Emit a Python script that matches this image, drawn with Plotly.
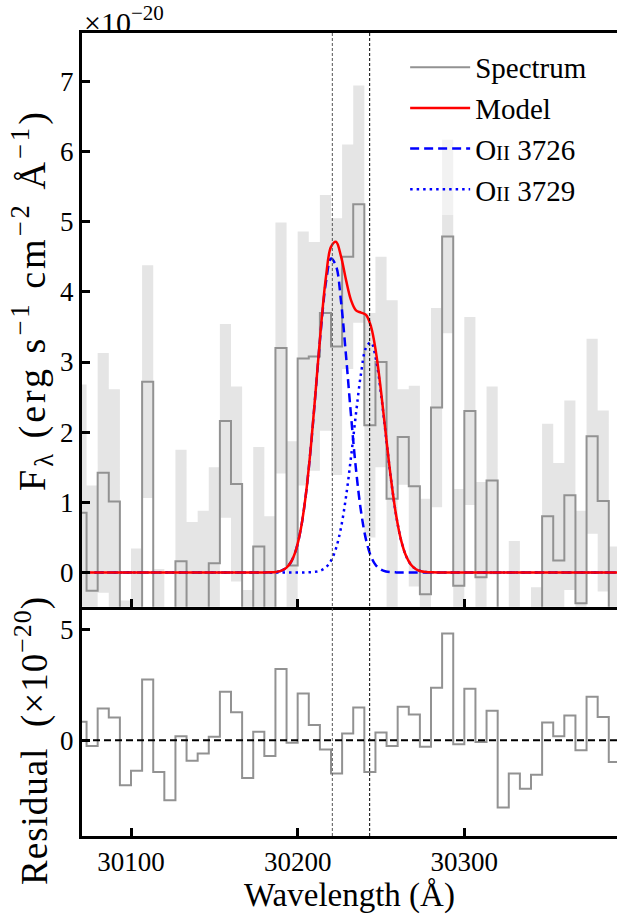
import plotly.graph_objects as go
from plotly.subplots import make_subplots

# Binned spectrum (bin centres in Angstrom, flux in 1e-20 erg/s/cm2/A)
wave = [
    30070.00, 30076.67, 30083.33, 30090.00, 30096.67, 30103.33, 30110.00, 30116.67,
    30123.33, 30130.00, 30136.67, 30143.33, 30150.00, 30156.67, 30163.33, 30170.00,
    30176.67, 30183.33, 30190.00, 30196.67, 30203.33, 30210.00, 30216.67, 30223.33,
    30230.00, 30236.67, 30243.33, 30250.00, 30256.67, 30263.33, 30270.00, 30276.67,
    30283.33, 30290.00, 30296.67, 30303.33, 30310.00, 30316.67, 30323.33, 30330.00,
    30336.67, 30343.33, 30350.00, 30356.67, 30363.33, 30370.00, 30376.67, 30383.33,
    30390.00,
]
flux = [
    0.85, -0.26, 1.42, 1.01, -2.03, -1.37, 2.72, -1.43,
    -2.70, 0.16, -0.93, -0.60, 0.13, 2.16, 1.26, -1.70,
    0.37, -0.71, 3.20, 0.10, 3.05, 3.08, 3.70, 3.22,
    4.50, 5.25, 2.10, 3.00, 1.05, 1.93, 1.23, -0.31,
    2.35, 4.79, -0.19, 2.30, -0.07, 1.31, -3.03, -1.50,
    -2.18, -1.55, 0.80, 0.17, 1.10, -0.44, 1.94, 1.02,
    -0.98,
]
flux_err = [
    1.83, 1.50, 1.71, 1.60, 1.63, 1.71, 1.66, 1.48,
    1.60, 1.59, 1.65, 1.48, 1.37, 1.38, 1.39, 1.45,
    1.42, 1.51, 1.79, 1.77, 1.81, 1.63, 1.68, 1.83,
    1.60, 1.69, 1.60, 1.50, 2.83, 0.68, 1.43, 1.36,
    1.42, 1.38, 1.38, 1.34, 1.36, 1.34, 1.40, 1.95,
    1.40, 1.34, 1.32, 1.39, 1.35, 1.32, 1.39, 1.29,
    1.35,
]
resid = [
    0.83, -0.26, 1.43, 1.02, -2.03, -1.37, 2.73, -1.43,
    -2.70, 0.18, -0.93, -0.60, 0.15, 2.18, 1.26, -1.70,
    0.38, -0.71, 3.20, -0.12, 2.10, 0.68, -0.42, -1.50,
    0.30, 1.47, -1.43, 0.35, -0.26, 1.50, 1.16, -0.30,
    2.36, 4.80, -0.18, 2.31, -0.08, 1.32, -3.03, -1.50,
    -2.18, -1.55, 0.80, 0.18, 1.11, -0.45, 1.95, 1.04,
    -0.98,
]

# Model curves
model_wave = [
    30070, 30184, 30187, 30190, 30193, 30196, 30199, 30202, 30205, 30208, 30211,
    30214, 30217, 30220, 30223, 30226, 30229, 30232, 30235, 30238, 30241, 30244,
    30247, 30250, 30253, 30256, 30259, 30262, 30265, 30268, 30271, 30274, 30277,
    30280, 30392,
]
model_total = [
    0, 0.003, 0.008, 0.023, 0.062, 0.149, 0.323, 0.634, 1.127, 1.814, 2.648,
    3.504, 4.217, 4.641, 4.714, 4.505, 4.171, 3.883, 3.736, 3.705, 3.671, 3.506,
    3.137, 2.586, 1.947, 1.332, 0.826, 0.464, 0.237, 0.109, 0.046, 0.017, 0.006,
    0.002, 0,
]
oii_3726 = [
    0, 0.003, 0.008, 0.023, 0.062, 0.149, 0.323, 0.634, 1.126, 1.811, 2.637,
    3.475, 4.144, 4.474, 4.371, 3.866, 3.094, 2.241, 1.469, 0.872, 0.468, 0.228,
    0.100, 0.040, 0.014, 0.005, 0.001, 0, 0, 0, 0, 0, 0,
    0, 0,
]
oii_3729 = [
    0, 0, 0, 0, 0, 0, 0, 0, 0.001, 0.003, 0.011,
    0.029, 0.073, 0.167, 0.343, 0.639, 1.077, 1.642, 2.267, 2.833, 3.203, 3.278,
    3.037, 2.546, 1.933, 1.327, 0.825, 0.464, 0.237, 0.109, 0.046, 0.017, 0.006,
    0.002, 0,
]
line_centers = [30220.8, 30243.2]

FONT = "Liberation Serif, Times New Roman, serif"
SPEC_GRAY = "#929292"
BAND_GRAY = "#e5e5e5"
SP = "\u00a0"  # extra word spacing for the residual label


def steps(x, y):
    # turn bin centres into a step outline that covers each full bin
    half = (x[1] - x[0]) / 2
    xs, ys = [], []
    for xc, yc in zip(x, y):
        xs += [xc - half, xc + half]
        ys += [yc, yc]
    return xs, ys


lo = [f - e for f, e in zip(flux, flux_err)]
hi = [f + e for f, e in zip(flux, flux_err)]
lo_x, lo_y = steps(wave, lo)
hi_x, hi_y = steps(wave, hi)
sx, sy = steps(wave, flux)
rx, ry = steps(wave, resid)

fig = make_subplots(rows=2, cols=1, shared_xaxes=True, vertical_spacing=0)

# error band
fig.add_trace(
    go.Scatter(
        x=lo_x + hi_x[::-1], y=lo_y + hi_y[::-1], fill="toself",
        fillcolor=BAND_GRAY, line={"width": 0}, mode="lines",
        showlegend=False, hoverinfo="skip",
    ),
    row=1, col=1,
)
fig.add_trace(
    go.Scatter(x=sx, y=sy, mode="lines", name="Spectrum",
               line={"color": SPEC_GRAY, "width": 2}, legendrank=1),
    row=1, col=1,
)
fig.add_trace(
    go.Scatter(x=model_wave, y=oii_3726, mode="lines",
               name="O<span style='font-size:21px'>II</span> 3726",
               line={"color": "#0000ff", "width": 2.5, "dash": "9px,5px", "shape": "spline"},
               legendrank=3),
    row=1, col=1,
)
fig.add_trace(
    go.Scatter(x=model_wave, y=oii_3729, mode="lines",
               name="O<span style='font-size:21px'>II</span> 3729",
               line={"color": "#0000ff", "width": 2.5, "dash": "2.5px,4px", "shape": "spline"},
               legendrank=4),
    row=1, col=1,
)
fig.add_trace(
    go.Scatter(x=model_wave, y=model_total, mode="lines", name="Model",
               line={"color": "#ff0000", "width": 2.5, "shape": "spline"}, legendrank=2),
    row=1, col=1,
)

# residuals
fig.add_trace(
    go.Scatter(x=rx, y=ry, mode="lines", line={"color": SPEC_GRAY, "width": 2},
               showlegend=False),
    row=2, col=1,
)

# line centres across both panels
for i, lc in enumerate(line_centers):
    fig.add_shape(
        type="line", xref="x", yref="paper", x0=lc, x1=lc, y0=0, y1=1,
        line={"color": "#555555" if i == 0 else "#000000", "width": 1, "dash": "3px,2px"},
        layer="above",
    )
# zero line of the residual panel
fig.add_shape(
    type="line", xref="x2 domain", yref="y2", x0=0, x1=1, y0=0, y1=0,
    line={"color": "#000000", "width": 2, "dash": "7px,4px"}, layer="above",
)

axis_common = {
    "showline": True, "linecolor": "#000000", "linewidth": 3,
    "ticks": "inside", "ticklen": 8, "tickwidth": 3, "tickcolor": "#000000",
    "showgrid": False, "zeroline": False,
    "tickfont": {"family": FONT, "size": 27, "color": "#000000"},
}
x_range = [30070.6, 30391.6]

fig.update_xaxes(**axis_common, range=x_range, tickvals=[30100, 30200, 30300], tickformat="d")
fig.update_xaxes(showticklabels=False, mirror=True, row=1, col=1)
fig.update_xaxes(
    mirror=False,
    title={"text": "Wavelength (Å)", "font": {"family": FONT, "size": 33, "color": "#000000"},
           "standoff": 4},
    row=2, col=1,
)
fig.update_yaxes(**axis_common, mirror=False)
fig.update_yaxes(range=[-0.49, 7.69], tickvals=[0, 1, 2, 3, 4, 5, 6, 7], row=1, col=1)
fig.update_yaxes(range=[-4.31, 6.0], tickvals=[0, 5], row=2, col=1)
fig.update_layout(
    yaxis={"domain": [0.2854, 1.0]},
    yaxis2={"domain": [0.0, 0.2854]},
)

flux_label = (
    "<span style='letter-spacing:3px'>"
    "F<sub>λ</sub> (erg s<sup>−1</sup> cm<sup>−2</sup> Å<sup>−1</sup>)"
    "</span>"
)
resid_label = (
    "<span style='letter-spacing:1px'>"
    f"Residual {SP}(×10<sup>−20</sup>)"
    "</span>"
)
fig.update_layout(
    width=617,
    height=919,
    autosize=False,
    paper_bgcolor="#ffffff",
    plot_bgcolor="#ffffff",
    margin={"l": 82, "r": 0, "t": 33, "b": 83},
    font={"family": FONT, "color": "#000000"},
    showlegend=True,
    legend={
        "x": 0.604, "y": 0.989, "xanchor": "left", "yanchor": "top",
        "bgcolor": "rgba(255,255,255,0.5)", "borderwidth": 0,
        "font": {"family": FONT, "size": 29, "color": "#000000"},
        "itemwidth": 60,
    },
    annotations=[
        {
            "text": "×10<sup>−20</sup>", "xref": "paper", "yref": "paper",
            "x": 0.0, "y": 1.042, "xanchor": "left", "yanchor": "top",
            "showarrow": False, "font": {"family": FONT, "size": 30, "color": "#000000"},
        },
        {
            "text": flux_label,
            "xref": "paper", "yref": "paper", "x": -0.0935, "y": 0.6675,
            "xanchor": "center", "yanchor": "middle", "textangle": -90,
            "showarrow": False, "font": {"family": FONT, "size": 38, "color": "#000000"},
        },
        {
            "text": resid_label,
            "xref": "paper", "yref": "paper", "x": -0.0935, "y": 0.1196,
            "xanchor": "center", "yanchor": "middle", "textangle": -90,
            "showarrow": False, "font": {"family": FONT, "size": 37, "color": "#000000"},
        },
    ],
)

fig.write_html(
    "out.html",
    config={"displayModeBar": False},
    post_script="document.body.style.margin='0px';",
)
